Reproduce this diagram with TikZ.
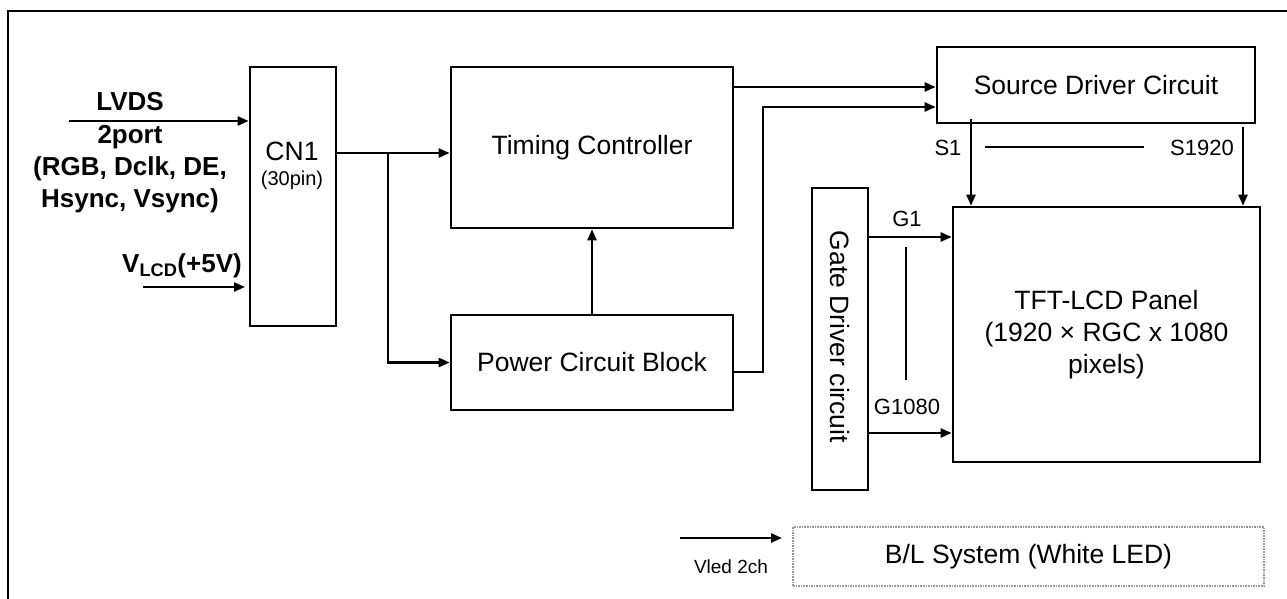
\documentclass[tikz,border=0pt]{standalone}
\usepackage{fontspec}
\setmainfont{Liberation Sans}
\usetikzlibrary{arrows.meta}
\begin{document}
\begin{tikzpicture}[x=1pt,y=-1pt,
  box/.style={draw, line width=2.6pt, inner sep=0pt, font=\fontsize{26.5}{32}\selectfont, align=center},
  txt/.style={inner sep=0pt, font=\fontsize{26.5}{32}\selectfont, align=center},
  btxt/.style={inner sep=0pt, font=\bfseries\fontsize{26}{32.3}\selectfont, align=center},
  arr/.style={line width=2.3pt, -{Triangle[length=11pt,width=9pt]}},
  ln/.style={line width=2.3pt},
  lbl/.style={inner sep=0pt, font=\fontsize{22}{26}\selectfont}]
\useasboundingbox (0,0) rectangle (1287,599);
% frame
\draw[line width=2.8pt] (8,599) -- (8,11) -- (1290,11);
% boxes
\node[box, minimum width=86pt, minimum height=259pt] (cn1) at (293,196.5) {};
\node[txt] (cn1a) at (292,151) {CN1};
\node[txt, font=\fontsize{20}{24}\selectfont] (cn1b) at (292,180) {(30pin)};
\node[box, minimum width=282pt, minimum height=161pt] (timing) at (592,147.5) {Timing Controller};
\node[box, minimum width=282pt, minimum height=95pt] (power) at (592,362.5) {Power Circuit Block};
\node[box, minimum width=318pt, minimum height=76pt] (source) at (1096,85) {Source Driver Circuit};
\node[box, minimum width=307pt, minimum height=255pt] (tft) at (1106.5,334.5) {TFT-LCD Panel\\(1920 × RGC x 1080\\pixels)};
\node[box, minimum width=56pt, minimum height=302pt] (gate) at (840,339) {};
\node[txt, rotate=-90] (gatet) at (840,337) {Gate Driver circuit};
\node[box, draw=gray!80, line width=1.3pt, dash pattern=on 1.6pt off 1pt, minimum width=471pt, minimum height=59pt] (bl) at (1028.5,556.5) {B/L System (White LED)};
% input texts
\node[btxt] (lvdst) at (130,153) {LVDS\\2port\\(RGB, Dclk, DE,\\Hsync, Vsync)};
\node[btxt] (vlcd) at (182,266) {V\textsubscript{LCD}(+5V)};
% inputs
\coordinate (lvdsin) at (69,121);
\draw[arr] (lvdsin) -- (lvdsin -| cn1.west);
\coordinate (vin) at (143,287);
\coordinate (vend) at (245,287);
\draw[arr] (vin) -- (vend);
% CN1 outputs
\coordinate (j) at (388,153);
\draw[arr] (j -| cn1.east) -- (j -| timing.west);
\draw[arr] (j) |- (power.west);
% power -> timing
\draw[arr] (power.north) -- (timing.south);
% timing -> source
\coordinate (t1) at (733,87);
\draw[arr] (t1) -- (t1 -| source.west);
% power -> source
\coordinate (p1) at (733,372);
\coordinate (p2) at (763,107);
\draw[arr] (p1) -| (p2) -- (p2 -| source.west);
% source -> tft
\coordinate (s1) at (971,119);
\coordinate (s2) at (1243,127);
\draw[arr] (s1) -- (s1 |- tft.north);
\draw[arr] (s2) -- (s2 |- tft.north);
\node[lbl] (s1l) at (948,148) {S1};
\node[lbl] (s2l) at (1202,148) {S1920};
\coordinate (h1) at (985,147);
\coordinate (h2) at (1144,147);
\draw[ln] (h1) -- (h2);
% gate -> tft
\coordinate (g1) at (868,237);
\coordinate (g2) at (868,433);
\draw[arr] (g1) -- (g1 -| tft.west);
\draw[arr] (g2) -- (g2 -| tft.west);
\node[lbl] (g1l) at (907,219) {G1};
\node[lbl] (g2l) at (907,407) {G1080};
\coordinate (v1) at (906,247);
\coordinate (v2) at (906,380);
\draw[line width=2pt] (v1) -- (v2);
% vled
\coordinate (l1) at (680,538);
\coordinate (l2) at (782,538);
\draw[arr] (l1) -- (l2);
\node[lbl, font=\fontsize{19}{22}\selectfont] (vledt) at (731,567) {Vled 2ch};
\end{tikzpicture}
\end{document}
